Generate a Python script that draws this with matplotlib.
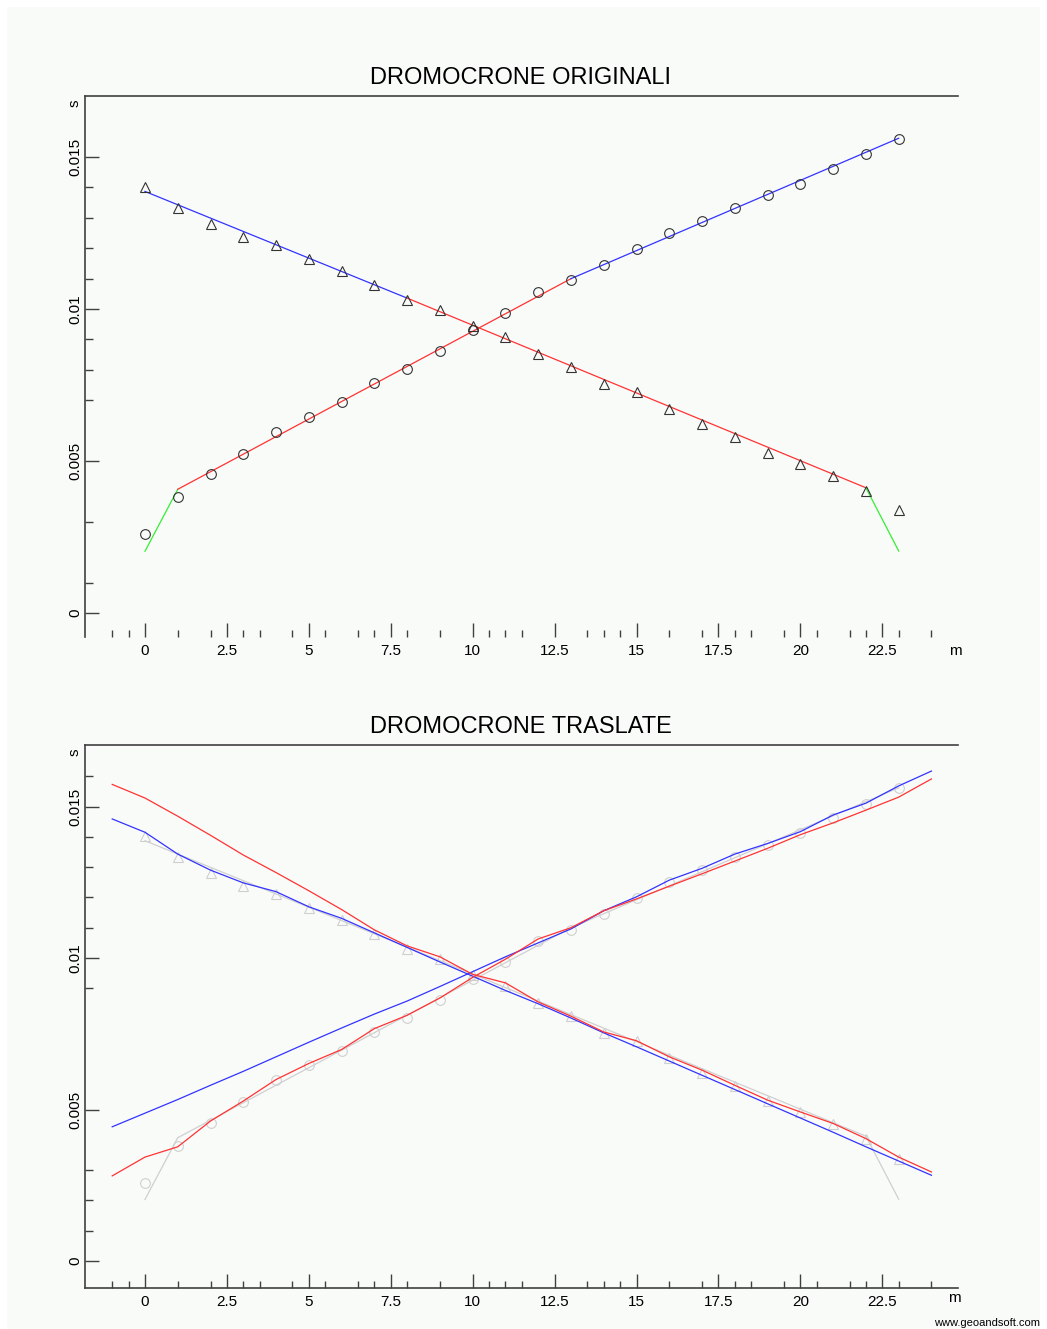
import matplotlib
matplotlib.use("Agg")
from matplotlib import pyplot as plt
from matplotlib.patches import Rectangle

plt.rcParams["font.family"] = ["Liberation Sans", "DejaVu Sans"]

# posizione geofoni (m)
geofoni = list(range(24))
# tempi di primo arrivo, energizzazione diretta (cerchi) e inversa (triangoli)
t_diretta = [0.00259, 0.00381, 0.00456, 0.00524, 0.00597, 0.00646, 0.00693, 0.00757,
             0.00803, 0.00862, 0.00931, 0.00988, 0.01055, 0.01094, 0.01144, 0.01198,
             0.01250, 0.01289, 0.01334, 0.01374, 0.01413, 0.01461, 0.01509, 0.01561]
t_inversa = [0.01403, 0.01332, 0.01280, 0.01237, 0.01212, 0.01166, 0.01125, 0.01078,
             0.01030, 0.00996, 0.00944, 0.00909, 0.00851, 0.00808, 0.00753, 0.00726,
             0.00671, 0.00622, 0.00578, 0.00527, 0.00491, 0.00452, 0.00403, 0.00338]

# rette interpolanti (x, t, colore)
rette = [
    ([0, 1], [0.00203, 0.00407], "#33ee33"),
    ([1, 13], [0.00407, 0.01100], "#ff3333"),
    ([13, 23], [0.01100, 0.01562], "#3333ff"),
    ([0, 8], [0.01387, 0.01036], "#3333ff"),
    ([8, 22], [0.01036, 0.00412], "#ff3333"),
    ([22, 23], [0.00412, 0.00204], "#33ee33"),
]

# dromocrone traslate
x_trasl = list(range(-1, 25))
dir_rossa = [0.00281, 0.00343, 0.00377, 0.00462, 0.00528, 0.00599, 0.00652, 0.00698,
             0.00767, 0.00811, 0.00868, 0.00936, 0.00996, 0.01063, 0.01100, 0.01156,
             0.01195, 0.01237, 0.01278, 0.01320, 0.01362, 0.01407, 0.01446, 0.01488,
             0.01531, 0.01591]
dir_blu = [0.00443, 0.00488, 0.00533, 0.00580, 0.00626, 0.00674, 0.00722, 0.00769,
           0.00815, 0.00858, 0.00906, 0.00955, 0.01004, 0.01050, 0.01096, 0.01156,
           0.01202, 0.01257, 0.01296, 0.01343, 0.01378, 0.01417, 0.01472, 0.01511,
           0.01568, 0.01617]
inv_rossa = [0.01573, 0.01528, 0.01468, 0.01405, 0.01340, 0.01282, 0.01222, 0.01160,
             0.01093, 0.01040, 0.01004, 0.00946, 0.00918, 0.00855, 0.00808, 0.00756,
             0.00727, 0.00674, 0.00630, 0.00580, 0.00531, 0.00492, 0.00454, 0.00404,
             0.00343, 0.00294]
inv_blu = [0.01459, 0.01415, 0.01343, 0.01290, 0.01248, 0.01219, 0.01169, 0.01131,
           0.01083, 0.01035, 0.00987, 0.00940, 0.00893, 0.00849, 0.00802, 0.00753,
           0.00707, 0.00660, 0.00613, 0.00566, 0.00519, 0.00472, 0.00425, 0.00377,
           0.00330, 0.00283]

x_major = [0, 2.5, 5, 7.5, 10, 12.5, 15, 17.5, 20, 22.5]
x_labels = ["0", "2.5", "5", "7.5", "10", "12.5", "15", "17.5", "20", "22.5"]
x_minor = [-1, -0.5, 1, 2, 3, 3.5, 4.5, 5.5, 6.5, 7, 8, 9, 10.5, 11, 11.5, 13.5, 14,
           14.5, 16, 17, 18, 18.5, 19.5, 20.5, 21.5, 22, 23, 24]
y_major = [0, 0.005, 0.01, 0.015]
y_labels = ["0", "0.005", "0.01", "0.015"]
y_minor_sopra = [0.001, 0.003, 0.007, 0.008, 0.009, 0.011, 0.012, 0.013, 0.014]
y_minor_sotto = [0.001, 0.002, 0.003, 0.009, 0.011, 0.012, 0.013, 0.014, 0.016]

W, H = 1047, 1329
fig = plt.figure(figsize=(W / 100, H / 100), dpi=100, facecolor="white")
fig.patches.append(Rectangle((7 / W, 0), 1 - 14 / W, 1 - 7 / H, transform=fig.transFigure,
                             facecolor="#f9fbf9", edgecolor="none", zorder=-10))

ink = "#404040"
fs = 11


def px(x0, y0, x1, y1):
    return [x0 / W, 1 - y1 / H, (x1 - x0) / W, (y1 - y0) / H]


def assi(rect, ylim, y_minor, bottom_spine, titolo, y_tit):
    ax = fig.add_axes(rect)
    ax.patch.set_visible(False)
    ax.set_xlim(-1.83, 24.81)
    ax.set_ylim(*ylim)
    for s in ["top", "left", "bottom"]:
        ax.spines[s].set_color(ink)
        ax.spines[s].set_linewidth(1.2)
    ax.spines["right"].set_visible(False)
    ax.spines["bottom"].set_visible(bottom_spine)
    ax.set_xticks(x_major, x_labels)
    ax.set_xticks(x_minor, minor=True)
    ax.set_yticks(y_major, y_labels)
    ax.set_yticks(y_minor, minor=True)
    ax.tick_params(axis="x", which="major", direction="in", length=10, width=1,
                   color=ink, pad=5, labelsize=fs)
    ax.tick_params(axis="x", which="minor", direction="in", length=5, width=1, color=ink)
    ax.tick_params(axis="y", which="major", direction="in", length=10, width=1,
                   color=ink, pad=2, labelsize=fs)
    ax.tick_params(axis="y", which="minor", direction="in", length=6, width=1, color=ink)
    plt.setp(ax.get_yticklabels(), rotation=90, va="center")
    fig.text(521 / W, 1 - y_tit / H, titolo, ha="center", va="center", fontsize=17)
    return ax


# --- DROMOCRONE ORIGINALI ---
ax1 = assi(px(85, 96, 958, 637), (-0.00079, 0.01701), y_minor_sopra, False,
           "DROMOCRONE ORIGINALI", 78)
for xs, ts, c in rette:
    ax1.plot(xs, ts, color=c, lw=0.9)
ax1.plot(geofoni, t_diretta, "o", ms=7, mfc="none", mec="#333333", mew=0.8)
ax1.plot(geofoni, t_inversa, "^", ms=7, mfc="none", mec="#333333", mew=0.8)
fig.text(75 / W, 1 - 103 / H, "s", rotation=90, ha="center", va="center", fontsize=fs)
fig.text(955 / W, 1 - 651 / H, "m", ha="center", va="center", fontsize=fs)

# --- DROMOCRONE TRASLATE ---
ax2 = assi(px(85, 745, 958, 1288), (-0.00089, 0.01703), y_minor_sotto, True,
           "DROMOCRONE TRASLATE", 727)
grigio = "#cfcfcf"
for xs, ts, c in rette:
    ax2.plot(xs, ts, color=grigio, lw=0.9)
ax2.plot(geofoni, t_diretta, "o", ms=7, mfc="none", mec=grigio, mew=0.8)
ax2.plot(geofoni, t_inversa, "^", ms=7, mfc="none", mec=grigio, mew=0.8)
ax2.plot(x_trasl, dir_blu, color="#3333ff", lw=0.9)
ax2.plot(x_trasl, inv_blu, color="#3333ff", lw=0.9)
ax2.plot(x_trasl, dir_rossa, color="#ff3333", lw=0.9)
ax2.plot(x_trasl, inv_rossa, color="#ff3333", lw=0.9)
fig.text(75 / W, 1 - 752 / H, "s", rotation=90, ha="center", va="center", fontsize=fs)
fig.text(954 / W, 1 - 1298 / H, "m", ha="center", va="center", fontsize=fs)

fig.text(1040 / W, 1 - 1323 / H, "www.geoandsoft.com", ha="right", va="center", fontsize=8)

fig.savefig("out.png", dpi=100, facecolor=fig.get_facecolor())
